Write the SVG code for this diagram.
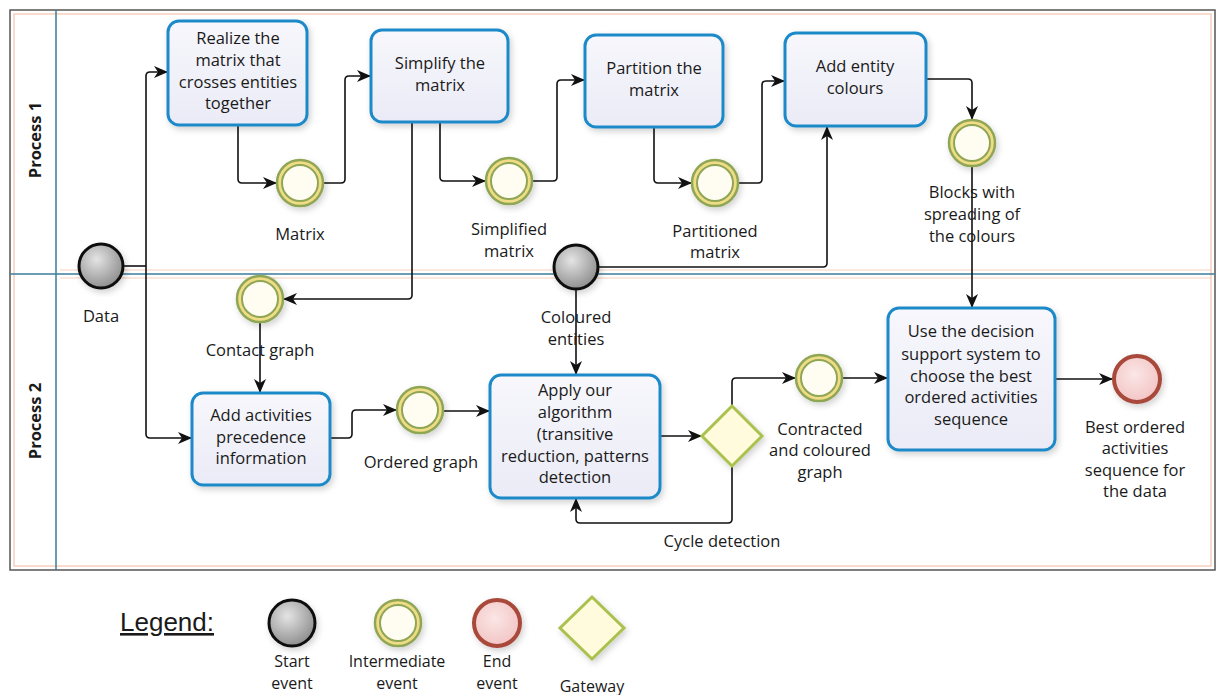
<svg xmlns="http://www.w3.org/2000/svg" width="1218" height="695" viewBox="0 0 1218 695">
<defs>
  <linearGradient id="taskFill" x1="0" y1="0" x2="0" y2="1">
    <stop offset="0" stop-color="#f7f7fc"/>
    <stop offset="1" stop-color="#eaebf6"/>
  </linearGradient>
  <radialGradient id="startFill" cx="0.4" cy="0.35" r="0.7">
    <stop offset="0" stop-color="#e4e4e4"/>
    <stop offset="1" stop-color="#8a8a8a"/>
  </radialGradient>
  <radialGradient id="endFill" cx="0.45" cy="0.4" r="0.65">
    <stop offset="0" stop-color="#fbe6e6"/>
    <stop offset="1" stop-color="#f2c2c2"/>
  </radialGradient>
  <filter id="shadow" x="-10%" y="-10%" width="130%" height="130%">
    <feDropShadow dx="2" dy="3" stdDeviation="3" flood-color="#000" flood-opacity="0.18"/>
  </filter>
  <marker id="arrow" viewBox="0 0 14 12" refX="13" refY="6" markerWidth="14" markerHeight="12" markerUnits="userSpaceOnUse" orient="auto">
    <path d="M0,0 L14,6 L0,12 L4,6 z" fill="#111"/>
  </marker>
</defs>
<style>
  .task { fill: url(#taskFill); stroke: #1f8ac8; stroke-width: 3; filter: url(#shadow); }
  .start { fill: url(#startFill); stroke: #111; stroke-width: 3; filter: url(#shadow); }
  .inter { fill: #f0dc86; stroke: #8fa655; stroke-width: 2.5; filter: url(#shadow); }
  .interIn { fill: #fffdf2; stroke: #8fa655; stroke-width: 2; }
  .end { fill: url(#endFill); stroke: #a8483a; stroke-width: 4; filter: url(#shadow); }
  .gate { fill: #fffbdc; stroke: #a9c14e; stroke-width: 3; filter: url(#shadow); }
  .conn { fill: none; stroke: #111; stroke-width: 1.6; stroke-linejoin: round; marker-end: url(#arrow); }
  .line { fill: none; stroke: #111; stroke-width: 1.6; stroke-linejoin: round; }
  text { font-family: "Open Sans", "Noto Sans", "DejaVu Sans", sans-serif; font-size: 16.5px; fill: #1a1a1a; text-anchor: middle; }
  .lane { font-weight: bold; font-size: 16.5px; }
  .leg { font-size: 16px; }
  .legend { font-family: "Liberation Sans", Arial, sans-serif; font-size: 26px; text-anchor: start; text-decoration: underline; }
</style>

<g id="pool">
  <rect x="10" y="10" width="1205" height="560" fill="#fff" stroke="#555" stroke-width="1.5"/>
  <rect x="14" y="14" width="1197" height="552" fill="none" stroke="#f6cfbc" stroke-width="1.5"/>
  <line x1="56" y1="10" x2="56" y2="570" stroke="#3d7c99" stroke-width="1.5"/>
  <line x1="10" y1="274" x2="1215" y2="274" stroke="#3d7c99" stroke-width="1.5"/>
  <line x1="60" y1="270" x2="1211" y2="270" stroke="#f6cfbc" stroke-width="1"/>
  <line x1="60" y1="278" x2="1211" y2="278" stroke="#f6cfbc" stroke-width="1"/>
  <text class="lane" transform="translate(41,140) rotate(-90)">Process 1</text>
  <text class="lane" transform="translate(41,421) rotate(-90)">Process 2</text>
</g>

<g id="connectors">
  <path class="line" d="M123,266 H146"/>
  <path class="conn" d="M146,266 V76 Q146,72 150,72 H167"/>
  <path class="conn" d="M146,266 V434 Q146,438 150,438 H191"/>
  <path class="conn" d="M238,125 V179 Q238,183 242,183 H276"/>
  <path class="conn" d="M323,183 H341 Q345,183 345,179 V80 Q345,76 349,76 H370"/>
  <path class="conn" d="M440,122 V177 Q440,181 444,181 H485"/>
  <path class="conn" d="M412,122 V295 Q412,299 408,299 H284"/>
  <path class="conn" d="M533,181 H553 Q557,181 557,177 V84 Q557,80 561,80 H584"/>
  <path class="conn" d="M654,127 V179 Q654,183 658,183 H691"/>
  <path class="conn" d="M739,183 H758 Q762,183 762,179 V85 Q762,81 766,81 H784"/>
  <path class="conn" d="M926,79 H968 Q972,79 972,83 V119"/>
  <path class="conn" d="M972,166 V307"/>
  <path class="conn" d="M598,267 H823 Q827,267 827,263 V127"/>
  <path class="conn" d="M576,289 V374"/>
  <path class="conn" d="M260,322 V392"/>
  <path class="conn" d="M330,438 H348 Q352,438 352,434 V414 Q352,410 356,410 H396"/>
  <path class="conn" d="M443,411 H489"/>
  <path class="conn" d="M660,436 H701"/>
  <path class="conn" d="M732,406 V382 Q732,378 736,378 H795"/>
  <path class="conn" d="M732,466 V519 Q732,523 728,523 H580 Q576,523 576,519 V499"/>
  <path class="conn" d="M842,378 H887"/>
  <path class="conn" d="M1055,379 H1112"/>
</g>

<g id="task-realize">
  <rect class="task" x="168" y="21" width="139" height="104" rx="11"/>
  <text x="238" y="44">Realize the</text>
  <text x="238" y="66">matrix that</text>
  <text x="238" y="88">crosses entities</text>
  <text x="238" y="109">together</text>
</g>
<g id="task-simplify">
  <rect class="task" x="371" y="30" width="137" height="92" rx="11"/>
  <text x="440" y="69">Simplify the</text>
  <text x="440" y="91">matrix</text>
</g>
<g id="task-partition">
  <rect class="task" x="585" y="35" width="138" height="92" rx="11"/>
  <text x="654" y="74">Partition the</text>
  <text x="654" y="96">matrix</text>
</g>
<g id="task-colours">
  <rect class="task" x="785" y="33" width="141" height="93" rx="11"/>
  <text x="855" y="72">Add entity</text>
  <text x="855" y="94">colours</text>
</g>
<g id="task-precedence">
  <rect class="task" x="192" y="393" width="138" height="92" rx="11"/>
  <text x="261" y="421">Add activities</text>
  <text x="261" y="443">precedence</text>
  <text x="261" y="464">information</text>
</g>
<g id="task-algorithm">
  <rect class="task" x="490" y="375" width="170" height="123" rx="11"/>
  <text x="575" y="396">Apply our</text>
  <text x="575" y="418">algorithm</text>
  <text x="575" y="440">(transitive</text>
  <text x="575" y="462">reduction, patterns</text>
  <text x="575" y="483">detection</text>
</g>
<g id="task-decision">
  <rect class="task" x="888" y="308" width="167" height="142" rx="11"/>
  <text x="971" y="337">Use the decision</text>
  <text x="971" y="360">support system to</text>
  <text x="971" y="382">choose the best</text>
  <text x="971" y="403">ordered activities</text>
  <text x="971" y="425">sequence</text>
</g>

<g id="start-data">
  <circle class="start" cx="101" cy="266" r="22"/>
  <text x="101" y="322">Data</text>
</g>
<g id="start-coloured">
  <circle class="start" cx="576" cy="267" r="22"/>
  <text x="576" y="323">Coloured</text>
  <text x="576" y="345">entities</text>
</g>
<g id="ev-matrix">
  <circle class="inter" cx="300" cy="183" r="23"/>
  <circle class="interIn" cx="300" cy="183" r="18"/>
  <text x="300" y="240">Matrix</text>
</g>
<g id="ev-simplified">
  <circle class="inter" cx="509" cy="181" r="23"/>
  <circle class="interIn" cx="509" cy="181" r="18"/>
  <text x="509" y="235">Simplified</text>
  <text x="509" y="257">matrix</text>
</g>
<g id="ev-partitioned">
  <circle class="inter" cx="715" cy="183" r="23"/>
  <circle class="interIn" cx="715" cy="183" r="18"/>
  <text x="715" y="237">Partitioned</text>
  <text x="715" y="258">matrix</text>
</g>
<g id="ev-blocks">
  <circle class="inter" cx="972" cy="143" r="23"/>
  <circle class="interIn" cx="972" cy="143" r="18"/>
  <text x="972" y="198">Blocks with</text>
  <text x="972" y="220">spreading of</text>
  <text x="972" y="242">the colours</text>
</g>
<g id="ev-contact">
  <circle class="inter" cx="260" cy="299" r="23"/>
  <circle class="interIn" cx="260" cy="299" r="18"/>
  <text x="260" y="356">Contact graph</text>
</g>
<g id="ev-ordered">
  <circle class="inter" cx="420" cy="410" r="23"/>
  <circle class="interIn" cx="420" cy="410" r="18"/>
  <text x="421" y="468">Ordered graph</text>
</g>
<g id="ev-contracted">
  <circle class="inter" cx="819" cy="378" r="23"/>
  <circle class="interIn" cx="819" cy="378" r="18"/>
  <text x="820" y="435">Contracted</text>
  <text x="820" y="456">and coloured</text>
  <text x="820" y="478">graph</text>
</g>
<g id="gateway">
  <polygon class="gate" points="732,406 762,436 732,466 702,436"/>
  <text x="722" y="547">Cycle detection</text>
</g>
<g id="end-best">
  <circle class="end" cx="1137" cy="379" r="23"/>
  <text x="1135" y="433">Best ordered</text>
  <text x="1135" y="454">activities</text>
  <text x="1135" y="476">sequence for</text>
  <text x="1135" y="497">the data</text>
</g>

<g id="legend">
  <text class="legend" x="120" y="631">Legend:</text>
  <circle class="start" cx="292" cy="623" r="23"/>
  <text class="leg" x="292" y="667">Start</text>
  <text class="leg" x="292" y="689">event</text>
  <circle class="inter" cx="398" cy="623" r="23"/>
  <circle class="interIn" cx="398" cy="623" r="18"/>
  <text class="leg" x="397" y="667">Intermediate</text>
  <text class="leg" x="397" y="689">event</text>
  <circle class="end" cx="497" cy="623" r="23"/>
  <text class="leg" x="497" y="667">End</text>
  <text class="leg" x="497" y="689">event</text>
  <polygon class="gate" points="592,597 624,628 592,659 560,628"/>
  <text class="leg" x="592" y="692">Gateway</text>
</g>
</svg>
